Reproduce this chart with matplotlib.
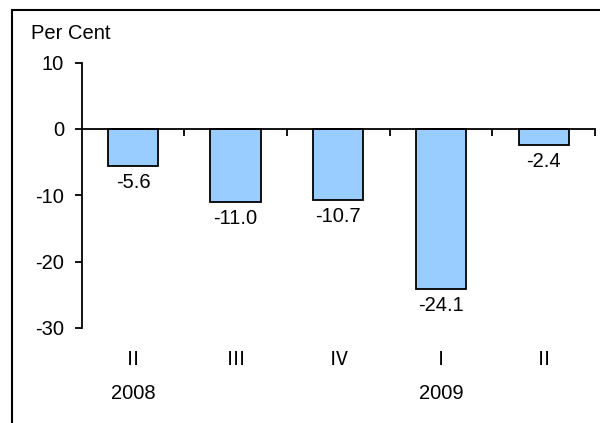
import matplotlib
matplotlib.use('Agg')
import matplotlib.pyplot as plt
from matplotlib.patches import Rectangle
import numpy as np

# datos
trimestres = ['Ⅱ', 'Ⅲ', 'Ⅳ', 'Ⅰ', 'Ⅱ']
anios = ['2008', '', '', '2009', '']
valores = [-5.6, -11.0, -10.7, -24.1, -2.4]
etiquetas = ['-5.6', '-11.0', '-10.7', '-24.1', '-2.4']
yticks = [10, 0, -10, -20, -30]

plt.rcParams['font.family'] = ['Liberation Sans', 'DejaVu Sans']
tam = 14.5

fig = plt.figure(figsize=(6, 4.23), dpi=100)
ax = fig.add_axes([0.136, 0.2246, 0.9917 - 0.136, 0.8522 - 0.2246])

x = np.arange(len(valores))
ax.bar(x, valores, width=0.49, color='#99CCFF', edgecolor='black', linewidth=1.3, zorder=2)

for xi, v, txt in zip(x, valores, etiquetas):
    ax.annotate(txt, (xi, v), xytext=(0, -5), textcoords='offset points',
                ha='center', va='top', fontsize=tam)

ax.set_xlim(-0.5, 4.5)
ax.set_ylim(-30, 10)
ax.set_yticks(yticks)
ax.set_yticklabels([str(t) for t in yticks], fontsize=tam)
ax.tick_params(axis='y', direction='out', length=5, width=1.3, pad=7.5)

# eje x en el cero con marcas entre categorias
ax.spines['bottom'].set_position(('data', 0))
ax.spines['bottom'].set_linewidth(1.3)
ax.spines['bottom'].set_zorder(3)
ax.spines['left'].set_linewidth(1.3)
ax.spines['top'].set_visible(False)
ax.spines['right'].set_visible(False)
ax.set_xticks(np.arange(0.5, 5, 1.0))
ax.set_xticklabels([])
ax.tick_params(axis='x', direction='out', length=5, width=1.3)

tr = ax.get_xaxis_transform()
for xi, t, a in zip(x, trimestres, anios):
    ax.text(xi, -0.1205, t, transform=tr, ha='center', va='center', fontsize=tam,
            family=['Noto Sans CJK JP', 'DejaVu Sans'])
    if a:
        ax.text(xi, -0.2486, a, transform=tr, ha='center', va='center', fontsize=tam)

fig.text(30.7 / 600, 1 - 39.3 / 423, 'Per Cent', fontsize=tam, va='baseline', ha='left')

# marco exterior (recortado a la derecha y abajo)
fig.patches.append(Rectangle((12.3 / 600, -0.1), 1.2, 1.1 - 10 / 423, transform=fig.transFigure,
                             fill=False, edgecolor='black', linewidth=1.5))

fig.savefig('out.png', dpi=100)
